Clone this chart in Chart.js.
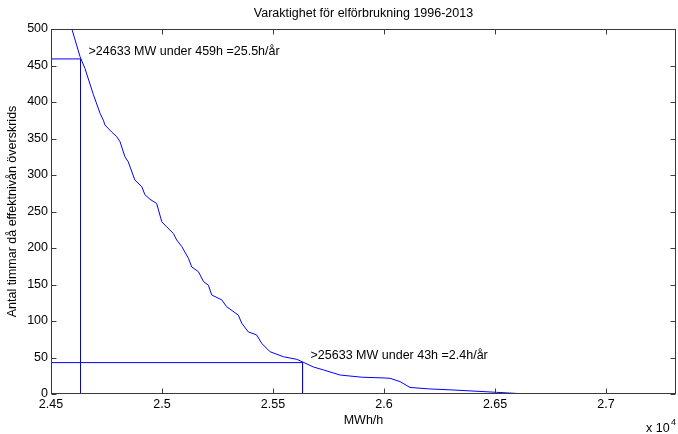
<!DOCTYPE html>
<html>
<head>
<meta charset="utf-8">
<script src="https://cdn.jsdelivr.net/npm/chart.js@4.4.0/dist/chart.umd.min.js"></script>
<style>
  html, body { margin: 0; padding: 0; background: #fff; }
  canvas { display: block; }
</style>
</head>
<body>
<canvas id="varaktighet" width="678" height="434"></canvas>
<script>
// duration curve (MW -> hours above that level)
const curveMW = [24593, 24631, 24653, 24691, 24721, 24736, 24743, 24773, 24796, 24811,
                 24833, 24848, 24878, 24909, 24923, 24946, 24976, 24999, 25021, 25051,
                 25066, 25089, 25119, 25134, 25164, 25187, 25209, 25224, 25269, 25291,
                 25344, 25359, 25389, 25426, 25449, 25486, 25547, 25607, 25640, 25682,
                 25727, 25802, 25900, 26000, 26027, 26072, 26117, 26200, 26312, 26507,
                 26643];
const curveHours = [501, 462, 446, 410, 384.5, 375, 368.5, 359, 352.5, 345.6,
                    325, 318, 293, 284, 273, 266.7, 261, 236, 229, 220,
                    211, 202, 186, 174, 167.5, 154, 149, 135.6, 129, 119.6,
                    108, 97, 85, 81, 69.5, 58, 51, 47.5, 43, 37,
                    33, 26, 23, 22, 21.5, 17, 9, 7, 5.5, 2.3,
                    0];

const markerMW = [24633, 25633];
const markerHours = [459, 43];
const markerLabels = ['>24633 MW under 459h =25.5h/år', '>25633 MW under 43h =2.4h/år'];

const xTicks = [24500, 25000, 25500, 26000, 26500, 27000];
const xTickLabels = ['2.45', '2.5', '2.55', '2.6', '2.65', '2.7'];
const yTicks = [0, 50, 100, 150, 200, 250, 300, 350, 400, 450, 500];
const yTickLabels = ['0', '50', '100', '150', '200', '250', '300', '350', '400', '450', '500'];

const xMin = 24500, xMax = 27315, yMin = 0, yMax = 500;

const FONT = '"Liberation Sans", Arial, sans-serif';
const BLUE = '#0000ff';

const matlabAxes = {
    id: 'matlabAxes',
    afterDraw(chart) {
        const ctx = chart.ctx;
        const a = chart.chartArea;
        const xs = chart.scales.x, ys = chart.scales.y;
        const L = Math.round(a.left) + 0.5, R = Math.round(a.right) - 0.5;
        const T = Math.round(a.top) + 0.5, B = Math.round(a.bottom) - 0.5;
        ctx.save();

        // box + inward ticks
        ctx.strokeStyle = '#3a3a3a';
        ctx.lineWidth = 1;
        ctx.strokeRect(L, T, R - L, B - T);
        ctx.beginPath();
        xTicks.forEach(v => {
            const px = Math.round(xs.getPixelForValue(v)) + 0.5;
            ctx.moveTo(px, B); ctx.lineTo(px, B - 5);
            ctx.moveTo(px, T); ctx.lineTo(px, T + 5);
        });
        yTicks.forEach(v => {
            const py = Math.round(ys.getPixelForValue(v)) + 0.5;
            ctx.moveTo(L, py); ctx.lineTo(L + 5, py);
            ctx.moveTo(R, py); ctx.lineTo(R - 5, py);
        });
        ctx.stroke();

        ctx.fillStyle = '#000';
        ctx.font = '12.5px ' + FONT;

        // title
        ctx.textAlign = 'center';
        ctx.textBaseline = 'middle';
        ctx.fillText('Varaktighet för elförbrukning 1996-2013', (a.left + a.right) / 2, 14);

        // x label
        ctx.fillText('MWh/h', (a.left + a.right) / 2, 421);

        // y label
        ctx.save();
        ctx.translate(13, (a.top + a.bottom) / 2);
        ctx.rotate(-Math.PI / 2);
        ctx.fillText('Antal timmar då effektnivån överskrids', 0, 0);
        ctx.restore();

        // exponent
        ctx.textAlign = 'left';
        ctx.textBaseline = 'alphabetic';
        ctx.fillText('x 10', 646, 432);
        ctx.font = '9px ' + FONT;
        ctx.fillText('4', 671, 425);

        // marker annotations
        ctx.font = '12.5px ' + FONT;
        ctx.textBaseline = 'middle';
        markerMW.forEach((mw, i) => {
            const px = xs.getPixelForValue(mw);
            const py = ys.getPixelForValue(markerHours[i]);
            ctx.fillText(markerLabels[i], px + 8, py - 7);
        });

        ctx.restore();
    }
};

const datasets = [{
    data: curveMW.map((x, i) => ({ x: x, y: curveHours[i] })),
    borderColor: BLUE,
    borderWidth: 1,
    pointRadius: 0,
    showLine: true,
    tension: 0
}];
markerMW.forEach((mw, i) => {
    datasets.push({
        data: [{ x: xMin, y: markerHours[i] }, { x: mw, y: markerHours[i] }, { x: mw, y: yMin }],
        borderColor: BLUE,
        borderWidth: 1,
        pointRadius: 0,
        showLine: true,
        tension: 0
    });
});

new Chart(document.getElementById('varaktighet'), {
    type: 'scatter',
    data: { datasets: datasets },
    options: {
        responsive: false,
        animation: false,
        events: [],
        layout: { padding: { top: 29, right: 2, left: 0, bottom: 0 } },
        plugins: { legend: { display: false }, tooltip: { enabled: false } },
        scales: {
            x: {
                type: 'linear',
                min: xMin,
                max: xMax,
                grid: { display: false, drawTicks: false },
                border: { display: false },
                afterBuildTicks: s => { s.ticks = xTicks.map(v => ({ value: v })); },
                afterFit: s => { s.height = 40; },
                ticks: {
                    callback: (v, i) => xTickLabels[i],
                    font: { size: 12.5, family: FONT },
                    color: '#000',
                    padding: 3,
                    maxRotation: 0,
                    autoSkip: false
                }
            },
            y: {
                type: 'linear',
                min: yMin,
                max: yMax,
                grid: { display: false, drawTicks: false },
                border: { display: false },
                afterBuildTicks: s => { s.ticks = yTicks.map(v => ({ value: v })); },
                afterFit: s => { s.width = 51; },
                ticks: {
                    callback: (v, i) => yTickLabels[i],
                    font: { size: 12.5, family: FONT },
                    color: '#000',
                    padding: 3,
                    autoSkip: false
                }
            }
        }
    },
    plugins: [matlabAxes]
});
</script>
</body>
</html>
